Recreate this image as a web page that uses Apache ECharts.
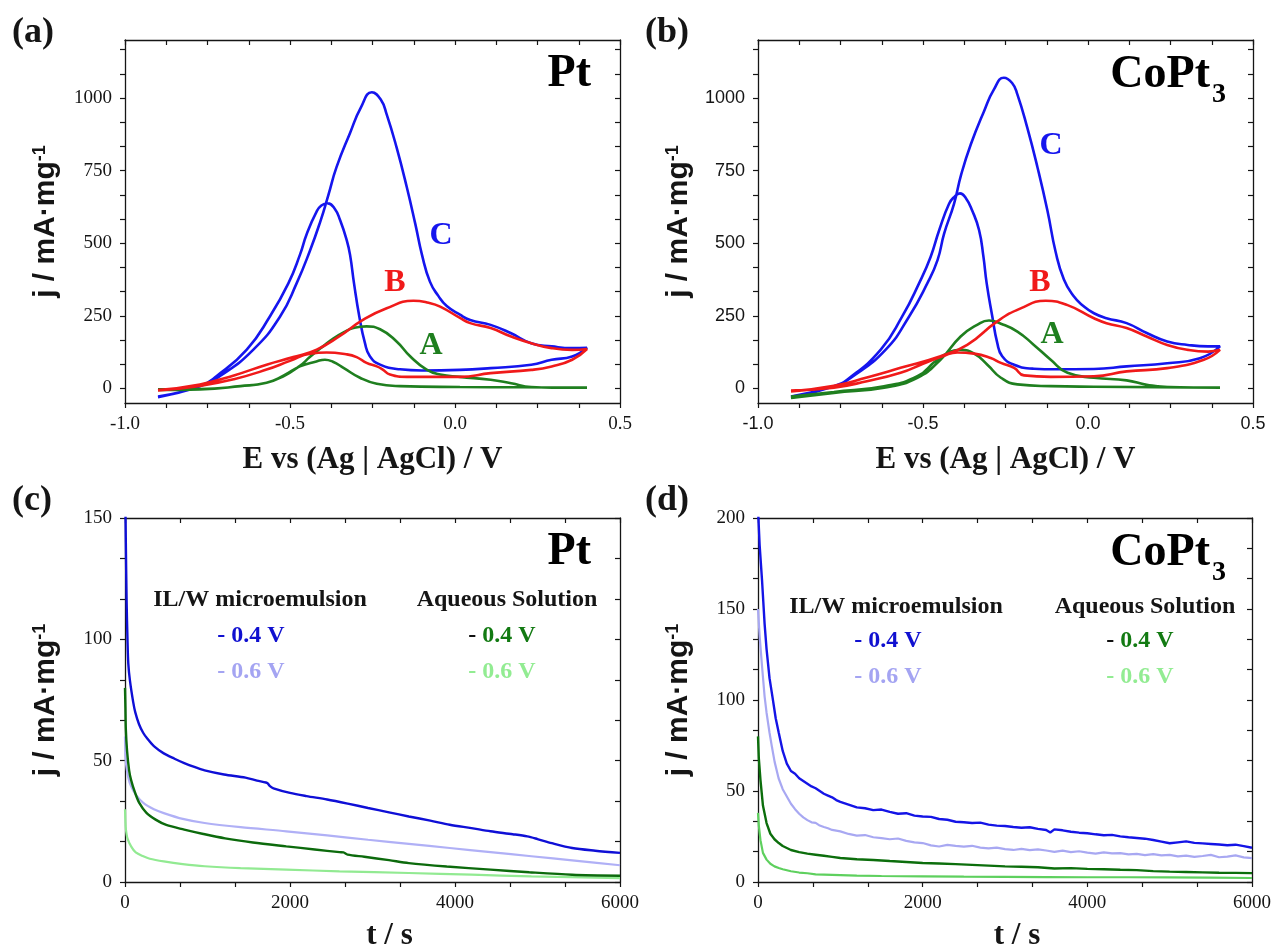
<!DOCTYPE html>
<html>
<head>
<meta charset="utf-8">
<title>CV and chronoamperometry, Pt vs CoPt3</title>
<script src="https://cdn.jsdelivr.net/npm/echarts@6/dist/echarts.min.js"></script>
<style>
  html, body { margin: 0; padding: 0; background: #fff; }
  #chart { width: 1274px; height: 952px; }
</style>
</head>
<body>
<div id="chart"></div>
<script>
// ---- (a) Pt, cyclic voltammograms: E / V and j / mA mg-1 (forward scan then reverse)
var ptC_E = [-0.900,-0.773,-0.712,-0.611,-0.530,-0.480,-0.439,-0.407,-0.384,-0.359,-0.318,-0.285,-0.252,-0.225,-0.207,-0.177,-0.146,-0.120,-0.100,-0.076,-0.050,-0.025,0.015,0.046,0.108,0.170,0.231,0.293,0.355,0.400,
             0.355,0.293,0.231,0.108,0.015,-0.100,-0.167,-0.227,-0.258,-0.273,-0.290,-0.306,-0.318,-0.328,-0.348,-0.365,-0.387,-0.405,-0.419,-0.449,-0.470,-0.505,-0.561,-0.631,-0.722,-0.773,-0.900];
var ptC_j = [-30,8,43,134,248,362,476,579,665,762,880,968,1020,995,944,830,693,565,460,368,318,284,254,236,219,190,156,145,139,140,
             110,99,82,70,64,62,66,82,111,157,248,362,460,510,579,620,638,630,610,533,460,362,248,134,43,8,-28];
var ptB_E = [-0.900,-0.773,-0.670,-0.571,-0.490,-0.419,-0.350,-0.279,-0.207,-0.126,-0.080,-0.045,0.015,0.046,0.108,0.170,0.231,0.293,0.355,0.400,
             0.355,0.293,0.231,0.108,0.015,-0.146,-0.197,-0.220,-0.237,-0.268,-0.298,-0.330,-0.389,-0.439,-0.500,-0.571,-0.670,-0.773,-0.900];
var ptB_j = [-5,14,45,82,108,134,180,236,276,302,295,282,243,225,208,179,156,139,133,136,
             99,76,64,53,40,40,48,66,76,88,108,118,124,120,95,65,32,9,-7];
var ptA_E = [-0.900,-0.773,-0.650,-0.571,-0.520,-0.470,-0.440,-0.400,-0.369,-0.335,-0.308,-0.268,-0.227,-0.177,-0.136,-0.086,-0.045,0.015,0.108,0.170,0.231,0.293,0.400,
             0.200,0.015,-0.167,-0.237,-0.288,-0.338,-0.370,-0.394,-0.420,-0.470,-0.520,-0.571,-0.650,-0.773,-0.900];
var ptA_j = [-3,-2,8,20,42,78,108,145,172,195,208,214,204,162,111,65,48,40,30,18,5,3,3,
             4,5,8,16,37,71,92,99,93,76,44,20,8,-3,-5];

// ---- (b) CoPt3, cyclic voltammograms
var coC_E = [-0.900,-0.770,-0.715,-0.613,-0.542,-0.487,-0.456,-0.436,-0.406,-0.384,-0.355,-0.315,-0.285,-0.255,-0.230,-0.214,-0.184,-0.153,-0.123,-0.098,-0.073,-0.045,-0.015,0.018,0.056,0.117,0.178,0.240,0.302,0.364,0.400,
             0.339,0.240,0.117,0.018,-0.100,-0.164,-0.224,-0.260,-0.275,-0.290,-0.307,-0.317,-0.330,-0.351,-0.370,-0.388,-0.405,-0.421,-0.451,-0.477,-0.512,-0.563,-0.628,-0.729,-0.770,-0.900];
var coC_j = [-32,8,40,134,248,362,442,533,636,738,841,955,1030,1070,1052,1013,898,761,613,470,375,320,285,259,242,225,191,162,150,145,145,
             104,87,76,67,66,68,82,111,157,248,362,455,545,613,655,672,660,636,545,453,362,248,134,31,8,-28];
var coB_E = [-0.900,-0.770,-0.670,-0.568,-0.447,-0.366,-0.275,-0.204,-0.128,-0.062,0.018,0.056,0.117,0.178,0.240,0.302,0.364,0.400,
             0.351,0.240,0.117,0.018,-0.113,-0.194,-0.224,-0.264,-0.295,-0.345,-0.396,-0.436,-0.500,-0.568,-0.670,-0.770,-0.900];
var coB_j = [-10,9,38,71,111,150,231,276,302,287,242,225,208,179,150,133,127,133,
             99,70,59,42,40,45,71,88,105,120,124,113,85,54,25,3,-7];
var coA_E = [-0.900,-0.770,-0.618,-0.517,-0.447,-0.386,-0.336,-0.300,-0.264,-0.214,-0.164,-0.113,-0.062,0.018,0.117,0.178,0.240,0.400,
             0.018,-0.113,-0.214,-0.264,-0.305,-0.345,-0.386,-0.406,-0.457,-0.517,-0.618,-0.770,-0.900];
var coA_j = [-33,-15,3,37,99,179,219,234,223,196,150,99,54,37,28,13,5,3,
             6,8,14,37,82,120,133,131,99,42,8,-12,-28];

// ---- (c) Pt, chronoamperometry: t / s and j / mA mg-1
var tPtMe04 = [0,10,20,30,40,60,100,124,170,220,272,350,470,600,718,850,965,1200,1460,1600,1708,1730,1757,1800,2000,2200,2450,2700,2946,3200,3440,3700,3936,4200,4430,4700,4876,5000,5173,5420,5700,6000];
var jPtMe04 = [170,140,115,100,90,83,74,70,65,61.5,59,56,53,50.8,49,47.3,46,44.3,43,41.8,41,40.6,39.5,38.6,36.7,35.4,34,32.3,30.5,28.7,27,25.3,23.6,22.2,20.9,19.7,18.8,17.7,16,14,12.9,12];
var tPtMe06 = [0,5,15,40,74,130,222,350,470,700,965,1400,1955,2450,2946,3440,3936,4430,4926,5450,6000];
var jPtMe06 = [60,52,48,43,39.4,36,32.6,30,28.4,26,24.3,22.6,20.9,19.2,17.4,15.7,14,12.3,10.6,8.8,6.9];
var tPtAq04 = [0,5,10,25,50,74,120,173,260,371,500,718,950,1213,1550,1955,2300,2600,2648,2698,2900,3200,3440,3900,4430,4900,5420,6000];
var jPtAq04 = [80,72,63,54,46,42,37,32.6,28.5,25.7,23.5,21.6,19.8,18,16.3,14.7,13.4,12.3,12.2,11.3,10.4,9,7.8,6.4,5.1,4,3,2.6];
var tPtAq06 = [0,5,10,30,74,130,222,300,470,700,965,1400,1955,2600,3440,4200,4926,6000];
var jPtAq06 = [30,25,22,18,14.7,12.2,10.6,9.6,8.5,7.4,6.5,5.7,5.1,4.4,3.7,3,2.3,1.6];

// ---- (d) CoPt3, chronoamperometry
var tCoMe04 = [0,20,50,80,104,140,178,215,252,300,350,400,450,500,550,600,650,700,750,800,850,900,950,1000,1100,1200,1300,1400,1500,1600,1700,1800,1900,2000,2100,2200,2300,2400,2500,2600,2700,2800,2900,3000,3100,3200,3300,3400,3500,3550,3600,3700,3800,3900,4000,4100,4200,4300,4400,4500,4600,4700,4800,4900,5000,5100,5200,5300,5400,5500,5600,5700,5800,5900,6000];
var jCoMe04 = [205,185,165,142,128,112,101,90,82,72,65,61,59.5,57,55.5,54,52.5,51.5,50,48.5,47.5,46.5,45,44,42.5,41,40.5,39.5,39.8,38.5,37.5,37.8,36.5,36,35.8,34.6,34.2,33.1,32.8,32.4,32.6,31.5,31,30.8,30.2,29.8,30.1,29.2,28.6,27.2,28.9,28.4,27.6,27.1,26.8,26.2,25.7,25.9,25.1,24.6,24.2,23.8,23.1,22.2,21.3,21.8,22.3,21.5,21.2,20.9,20.6,20.2,20.5,19.7,18.8];
var tCoMe06 = [0,20,50,80,104,140,170,202,250,300,350,400,450,500,550,600,650,700,750,800,850,900,950,1000,1100,1200,1300,1400,1500,1600,1700,1800,1900,2000,2100,2200,2300,2400,2500,2600,2700,2800,2900,3000,3100,3200,3300,3400,3500,3600,3700,3800,3900,4000,4100,4200,4300,4400,4500,4600,4700,4800,4900,5000,5100,5200,5300,5400,5500,5600,5700,5800,5900,6000];
var jCoMe06 = [150,135,118,102,93,82,74,66,57,51,47,43,40,37.5,35.5,34,32.8,32.5,31,30.2,29.5,28.6,28.2,27.8,26.4,25.5,25.8,24.6,24.1,23.5,23.9,22.6,21.8,21.4,20.1,19.5,20.4,19.8,19.4,19.9,18.9,18.5,18.9,18.1,17.6,18.2,17.5,17.9,17.3,16.6,17.2,16.4,16.9,16.1,15.6,16.3,15.7,15.9,15.2,15.5,14.8,15.3,14.6,14.9,14.1,14.5,13.8,14.3,14.9,13.6,13.9,14.6,13.5,13.1];
var tCoAq04 = [0,10,30,60,104,150,200,252,300,400,500,600,700,800,900,1000,1200,1400,1600,1800,2000,2200,2400,2600,2800,3000,3200,3400,3600,3800,4000,4200,4400,4600,4800,5000,5200,5400,5600,5800,6000];
var jCoAq04 = [80,68,56,42,32.4,26.5,23.5,21.4,19.8,17.6,16.4,15.6,15,14.4,13.8,13.2,12.5,12.1,11.5,11,10.4,10.2,9.8,9.4,9,8.6,8.4,8.1,7.4,7.6,7.2,7,6.7,6.5,6,5.7,5.5,5.3,5.1,5,4.9];
var tCoAq06 = [0,10,30,60,104,150,200,252,300,400,500,600,700,800,1000,1200,1500,2000,2500,3000,3500,4000,4500,5000,5500,6000];
var jCoAq06 = [38,31,23,16,12.3,10,8.6,7.7,7,5.9,5.2,4.8,4.2,4.1,3.8,3.5,3.3,3.1,2.9,2.8,2.7,2.6,2.6,2.5,2.4,2.2];

// ---- tick labels and tick marks
var cvXLabels = [-1.0, -0.5, 0.0, 0.5];
var cvXTicks = [-1,-0.875,-0.75,-0.625,-0.5,-0.375,-0.25,-0.125,0,0.125,0.25,0.375,0.5];
var cvYLabels = [0, 250, 500, 750, 1000];
var cvYTicks = [0,83.33,166.67,250,333.33,416.67,500,583.33,666.67,750,833.33,916.67,1000,1083.33,1166.67];
var caXLabels = [0, 2000, 4000, 6000];
var caXTicks = [0,666.67,1333.33,2000,2666.67,3333.33,4000,4666.67,5333.33,6000];
var caPtYLabels = [0, 50, 100, 150];
var caPtYTicks = [0,16.67,33.33,50,66.67,83.33,100,116.67,133.33,150];
var caCoYLabels = [0, 50, 100, 150, 200];
var caCoYTicks = [0,16.67,33.33,50,66.67,83.33,100,116.67,133.33,150,166.67,183.33,200];

var serif = 'Liberation Serif';
var sans = 'Liberation Sans';
var ink = '#151515';

function pairs(xs, ys) {
  return xs.map(function (x, i) { return [x, ys[i]]; });
}

var yTitle = '{m|j / mA·mg}{s|-1}';
var yTitleRich = {
  m: { fontFamily: sans, fontWeight: 'bold', fontSize: 30, color: ink },
  s: { fontFamily: sans, fontWeight: 'bold', fontSize: 18, color: ink, verticalAlign: 'top' }
};

var plain = function (v) { return String(v); };
var fmt1 = function (v) { return v.toFixed(1); };

function boxAxes(gi, c) {
  var line = { show: true, onZero: false, lineStyle: { color: ink, width: 1.3 } };
  var tickStyle = { color: ink, width: 1.2 };
  var xs = [{
    type: 'value', gridIndex: gi, position: 'bottom', min: c.xMin, max: c.xMax,
    axisLine: line,
    axisTick: { show: true, inside: false, length: 5, customValues: c.xTicks, lineStyle: tickStyle },
    axisLabel: { customValues: c.xLabels, formatter: c.xFmt, fontFamily: c.font, fontSize: c.fontSize, color: ink, margin: 12 },
    splitLine: { show: false },
    name: c.xName, nameLocation: 'middle', nameGap: c.xGap,
    nameTextStyle: { fontFamily: serif, fontWeight: 'bold', fontSize: 31, color: ink, padding: c.xPad || 0 }
  }, {
    type: 'value', gridIndex: gi, position: 'top', min: c.xMin, max: c.xMax,
    axisLine: line,
    axisTick: { show: true, inside: true, length: 5, customValues: c.xTicks, lineStyle: tickStyle },
    axisLabel: { show: false }, splitLine: { show: false }
  }];
  var ys = [{
    type: 'value', gridIndex: gi, position: 'left', min: c.yMin, max: c.yMax,
    axisLine: line,
    axisTick: { show: true, inside: false, length: 5, customValues: c.yTicks, lineStyle: tickStyle },
    axisLabel: { customValues: c.yLabels, formatter: plain, fontFamily: c.font, fontSize: c.fontSize, color: ink, margin: 13 },
    splitLine: { show: false },
    name: yTitle, nameLocation: 'middle', nameRotate: 90, nameGap: c.yGap,
    nameTextStyle: { rich: yTitleRich }
  }, {
    type: 'value', gridIndex: gi, position: 'right', min: c.yMin, max: c.yMax,
    axisLine: line,
    axisTick: { show: true, inside: true, length: 5, customValues: c.yTicks, lineStyle: tickStyle },
    axisLabel: { show: false }, splitLine: { show: false }
  }];
  return { x: xs, y: ys };
}

var eName = 'E vs (Ag | AgCl) / V';

var panels = [
  boxAxes(0, { xMin: -1, xMax: 0.5, xTicks: cvXTicks, xLabels: cvXLabels, xFmt: fmt1, yMin: -50, yMax: 1200, yTicks: cvYTicks, yLabels: cvYLabels,
               font: serif, fontSize: 19, xName: eName, xGap: 41, yGap: 64 }),
  boxAxes(1, { xMin: -1, xMax: 0.5, xTicks: cvXTicks, xLabels: cvXLabels, xFmt: fmt1, yMin: -50, yMax: 1200, yTicks: cvYTicks, yLabels: cvYLabels,
               font: sans, fontSize: 18, xName: eName, xGap: 41, yGap: 64 }),
  boxAxes(2, { xMin: 0, xMax: 6000, xTicks: caXTicks, xLabels: caXLabels, xFmt: plain, yMin: 0, yMax: 150, yTicks: caPtYTicks, yLabels: caPtYLabels,
               font: serif, fontSize: 19, xName: 't / s', xGap: 38, xPad: [0, 0, 0, 34], yGap: 64 }),
  boxAxes(3, { xMin: 0, xMax: 6000, xTicks: caXTicks, xLabels: caXLabels, xFmt: plain, yMin: 0, yMax: 200, yTicks: caCoYTicks, yLabels: caCoYLabels,
               font: serif, fontSize: 19, xName: 't / s', xGap: 38, xPad: [0, 0, 0, 24], yGap: 64 })
];

var xAxes = [], yAxes = [];
panels.forEach(function (p) { xAxes = xAxes.concat(p.x); yAxes = yAxes.concat(p.y); });

var cBlue = '#1515ee', cRed = '#f01a1a', cGreen = '#1f7f1f';

function curve(gi, E, j, color, width, smooth) {
  return {
    type: 'line', xAxisIndex: gi * 2, yAxisIndex: gi * 2,
    data: pairs(E, j), showSymbol: false, symbol: 'none',
    smooth: smooth, clip: true,
    lineStyle: { color: color, width: width }
  };
}

var series = [
  curve(0, ptC_E, ptC_j, cBlue, 2.6, 0.5),
  curve(0, ptA_E, ptA_j, cGreen, 2.6, 0.5),
  curve(0, ptB_E, ptB_j, cRed, 2.6, 0.5),
  curve(1, coC_E, coC_j, cBlue, 2.6, 0.5),
  curve(1, coA_E, coA_j, cGreen, 2.6, 0.5),
  curve(1, coB_E, coB_j, cRed, 2.6, 0.5),
  curve(2, tPtAq06, jPtAq06, '#92ea92', 2.2, 0.3),
  curve(2, tPtMe06, jPtMe06, '#b0b0f6', 2.2, 0.3),
  curve(2, tPtAq04, jPtAq04, '#0c6a0c', 2.4, 0.3),
  curve(2, tPtMe04, jPtMe04, '#0f0fd6', 2.4, 0.3),
  curve(3, tCoAq06, jCoAq06, '#5ed05e', 2.2, false),
  curve(3, tCoMe06, jCoMe06, '#a8a8f2', 2.2, false),
  curve(3, tCoAq04, jCoAq04, '#0c6e0c', 2.4, false),
  curve(3, tCoMe04, jCoMe04, '#1414e6', 2.4, false)
];

function txt(x, y, text, size, fill, align, extra) {
  var st = {
    x: x, y: y, text: text, fill: fill || ink,
    font: 'bold ' + size + 'px "' + serif + '"',
    textAlign: align || 'center', textVerticalAlign: 'middle'
  };
  if (extra) { for (var k in extra) st[k] = extra[k]; }
  return { type: 'text', silent: true, style: st };
}

var darkDash = {
  rich: {
    k: { font: 'bold 24px "' + serif + '"', fill: '#111' },
    g: { font: 'bold 24px "' + serif + '"', fill: '#127a12' }
  }
};

var graphics = [
  txt(12, 33, '(a)', 36, ink, 'left'),
  txt(645, 33, '(b)', 36, ink, 'left'),
  txt(12, 501, '(c)', 36, ink, 'left'),
  txt(645, 501, '(d)', 36, ink, 'left'),

  txt(591, 74, 'Pt', 46, '#000', 'right'),
  txt(1210, 75, 'CoPt', 46, '#000', 'right'),
  txt(1212, 95, '3', 28, '#000', 'left'),
  txt(591, 552, 'Pt', 46, '#000', 'right'),
  txt(1210, 553, 'CoPt', 46, '#000', 'right'),
  txt(1212, 573, '3', 28, '#000', 'left'),

  txt(441, 236, 'C', 32, cBlue),
  txt(395, 283, 'B', 32, cRed),
  txt(431, 346, 'A', 32, cGreen),
  txt(1051, 146, 'C', 32, cBlue),
  txt(1040, 283, 'B', 32, cRed),
  txt(1052, 335, 'A', 32, cGreen),

  txt(260, 600, 'IL/W microemulsion', 24, ink),
  txt(507, 600, 'Aqueous Solution', 24, ink),
  txt(251, 636, '- 0.4 V', 24, '#1010d0'),
  txt(251, 672, '- 0.6 V', 24, '#a4a4f2'),
  txt(502, 636, '{k|-} {g|0.4 V}', 24, ink, 'center', darkDash),
  txt(502, 672, '- 0.6 V', 24, '#92ec92'),

  txt(896, 607, 'IL/W microemulsion', 24, ink),
  txt(1145, 607, 'Aqueous Solution', 24, ink),
  txt(888, 641, '- 0.4 V', 24, '#1010d0'),
  txt(888, 677, '- 0.6 V', 24, '#a4a4f2'),
  txt(1140, 641, '{k|-} {g|0.4 V}', 24, ink, 'center', darkDash),
  txt(1140, 677, '- 0.6 V', 24, '#92ec92')
];

var chart = echarts.init(document.getElementById('chart'), null, { renderer: 'canvas' });
chart.setOption({
  animation: false,
  backgroundColor: '#ffffff',
  grid: [
    { left: 125, top: 40, width: 495, height: 363 },
    { left: 758, top: 40, width: 495, height: 363 },
    { left: 125, top: 518, width: 495, height: 364 },
    { left: 758, top: 518, width: 495, height: 364 }
  ],
  xAxis: xAxes,
  yAxis: yAxes,
  series: series,
  graphic: graphics
});
window.addEventListener('resize', chart.resize);
</script>
</body>
</html>
